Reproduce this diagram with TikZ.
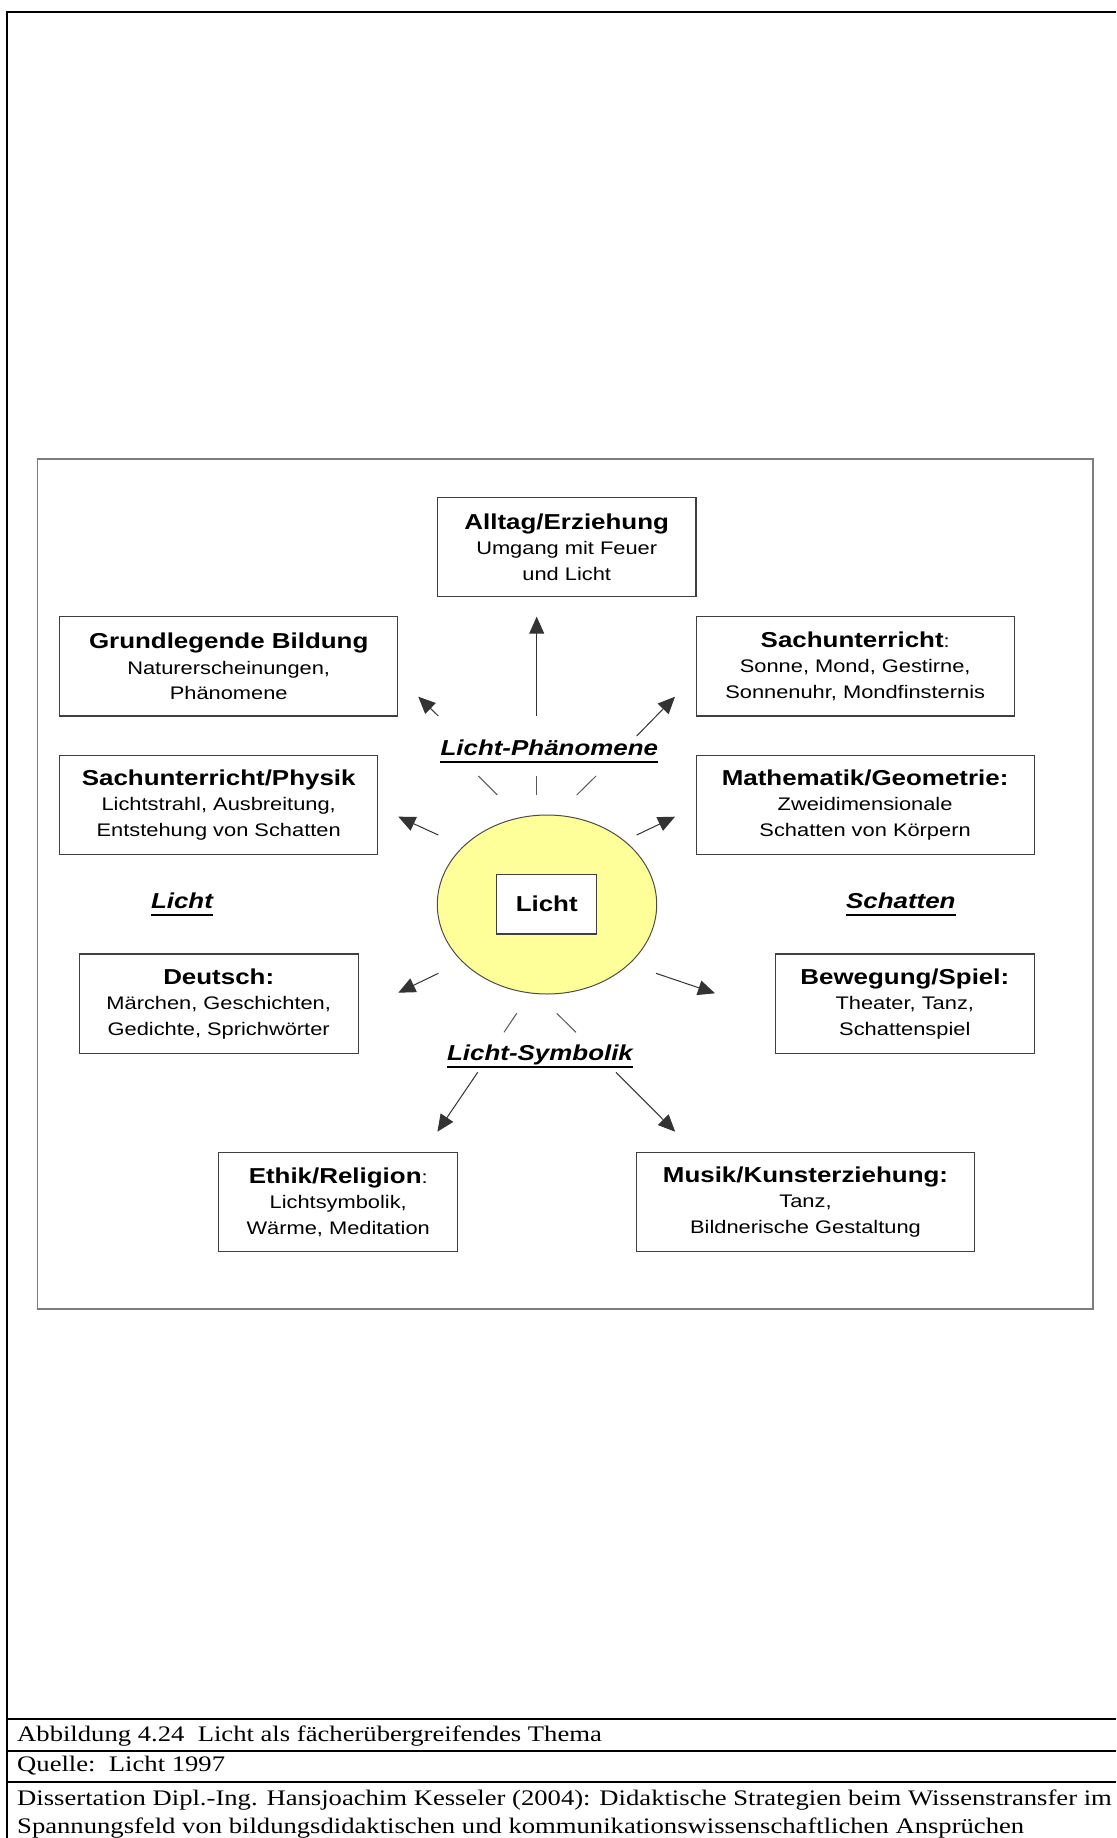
\documentclass[tikz,border=0pt]{standalone}
\usepackage{fontspec}
\setmainfont{Liberation Sans}[FakeStretch=1.2]
\newfontfamily\quellfont{Liberation Serif}[FakeStretch=1.2]
\usetikzlibrary{arrows.meta,shapes.geometric}

\definecolor{sonne}{RGB}{255,255,153}
\definecolor{rahmen}{RGB}{125,125,125}
\tikzset{
  fach/.style={draw=black!75, line width=1.2pt, fill=white, align=center, inner sep=0pt,
    font=\fontsize{18.2}{25.5}\selectfont},
  thema/.style={inner sep=0pt, anchor=base, font=\fontsize{21.6}{24}\selectfont\bfseries\itshape},
  pfeil/.style={draw=black!80, line width=1pt, -{Triangle[length=17pt,width=15pt]}},
  strahl/.style={draw=black!65, line width=1pt},
  zeile/.style={anchor=base west, inner sep=0pt, font=\quellfont\fontsize{22.2}{24}\selectfont},
}
\newcommand\titel[1]{{\fontsize{21.6}{25.5}\selectfont\bfseries #1}}

\begin{document}
\begin{tikzpicture}[x=1pt,y=-1pt]
\clip (0,0) rectangle (1116,1838);
\fill[white] (0,0) rectangle (1116,1838);

% Seite und Bildunterschrift
\draw[line width=2pt] (1116,12) -- (7,12) -- (7,1838);
\foreach \y in {1719,1750.7,1781.7} \draw[line width=2pt] (7,\y) -- (1116,\y);
\node[zeile] (abb) at (17,1741.5) {Abbildung 4.24\ \ Licht als fächerübergreifendes Thema};
\node[zeile] (quelle) at (17,1771.5) {Quelle:\ \ Licht 1997};
\node[zeile] (diss1) at (17,1805) {Dissertation Dipl.-Ing. Hansjoachim Kesseler (2004): Didaktische Strategien beim Wissenstransfer im};
\node[zeile] (diss2) at (17,1833) {Spannungsfeld von bildungsdidaktischen und kommunikationswissenschaftlichen Ansprüchen};

% Rahmen des Schaubilds
\draw[rahmen, line width=1.6pt] (37.5,459) rectangle (1093,1309);

% Mitte
\node[ellipse, draw=black!70, line width=1pt, fill=sonne, inner sep=0pt,
  minimum width=219.4pt, minimum height=179pt] (sonne) at (547,904.5) {};
\node[fach, minimum width=100pt, minimum height=59.7pt] (licht) at (546.7,904.2) {\titel{Licht}};

% Faecher
\node[fach, minimum width=258.7pt, minimum height=99.4pt] (alltag) at (566.7,547)
  {\titel{Alltag/Erziehung}\\Umgang mit Feuer\\und Licht};
\node[fach, minimum width=338.2pt, minimum height=99.4pt] (bildung) at (228.7,666.3)
  {\titel{Grundlegende Bildung}\\Naturerscheinungen,\\Phänomene};
\node[fach, minimum width=318.2pt, minimum height=99.4pt] (sach) at (855.2,666.3)
  {\titel{Sachunterricht}:\\Sonne, Mond, Gestirne,\\Sonnenuhr, Mondfinsternis};
\node[fach, minimum width=318.2pt, minimum height=99.4pt] (physik) at (218.7,805)
  {\titel{Sachunterricht/Physik}\\Lichtstrahl, Ausbreitung,\\Entstehung von Schatten};
\node[fach, minimum width=338pt, minimum height=99.4pt] (mathe) at (865.1,805)
  {\titel{Mathematik/Geometrie:}\\Zweidimensionale\\Schatten von Körpern};
\node[fach, minimum width=279pt, minimum height=99.4pt] (deutsch) at (218.7,1003.7)
  {\titel{Deutsch:}\\Märchen, Geschichten,\\Gedichte, Sprichwörter};
\node[fach, minimum width=258.6pt, minimum height=99.4pt] (spiel) at (904.8,1003.7)
  {\titel{Bewegung/Spiel:}\\Theater, Tanz,\\Schattenspiel};
\node[fach, minimum width=239pt, minimum height=99.4pt] (ethik) at (338.2,1202)
  {\titel{Ethik/Religion}:\\Lichtsymbolik,\\Wärme, Meditation};
\node[fach, minimum width=338.3pt, minimum height=99.4pt] (musik) at (805.5,1202)
  {\titel{Musik/Kunsterziehung:}\\Tanz,\\Bildnerische Gestaltung};

% Themen
\node[thema] (lphaen) at (549.3,755) {Licht-Phänomene};
\node[thema] (lsym) at (540,1060) {Licht-Symbolik};
\node[thema] (llicht) at (182,908) {Licht};
\node[thema] (lschatten) at (900.8,908) {Schatten};
\foreach \t in {lphaen,lsym,llicht,lschatten}
  \draw[line width=2pt] ([yshift=-7pt]\t.base west) -- ([yshift=-7pt]\t.base east);

% Pfeile
\coordinate (s1) at (536.7,716);   \coordinate (z1) at (536.7,616.7);
\coordinate (s2) at (438.3,716);   \coordinate (z2) at (418.3,696.7);
\coordinate (s3) at (636.7,736);   \coordinate (z3) at (675,696.7);
\coordinate (s4) at (438.3,835);   \coordinate (z4) at (398.3,816.7);
\coordinate (s5) at (636.7,835);   \coordinate (z5) at (675,816.7);
\coordinate (s6) at (438.3,973.3); \coordinate (z6) at (398.3,992.7);
\coordinate (s7) at (656,973.3);   \coordinate (z7) at (715,993.3);
\coordinate (s8) at (477.7,1072.3); \coordinate (z8) at (437.4,1131.7);
\coordinate (s9) at (616,1072.3);  \coordinate (z9) at (675.2,1131.7);
\foreach \i in {1,...,9} \draw[pfeil] (s\i) -- (z\i);

% Strahlen
\coordinate (r1) at (478.3,776);    \coordinate (q1) at (497.3,795);
\coordinate (r2) at (536.7,776);    \coordinate (q2) at (536.7,795);
\coordinate (r3) at (596,776);      \coordinate (q3) at (576.7,795);
\coordinate (r4) at (516.7,1013.3); \coordinate (q4) at (504,1032.3);
\coordinate (r5) at (556.7,1013.3); \coordinate (q5) at (576,1032.3);
\foreach \i in {1,...,5} \draw[strahl] (r\i) -- (q\i);
\end{tikzpicture}
\end{document}
